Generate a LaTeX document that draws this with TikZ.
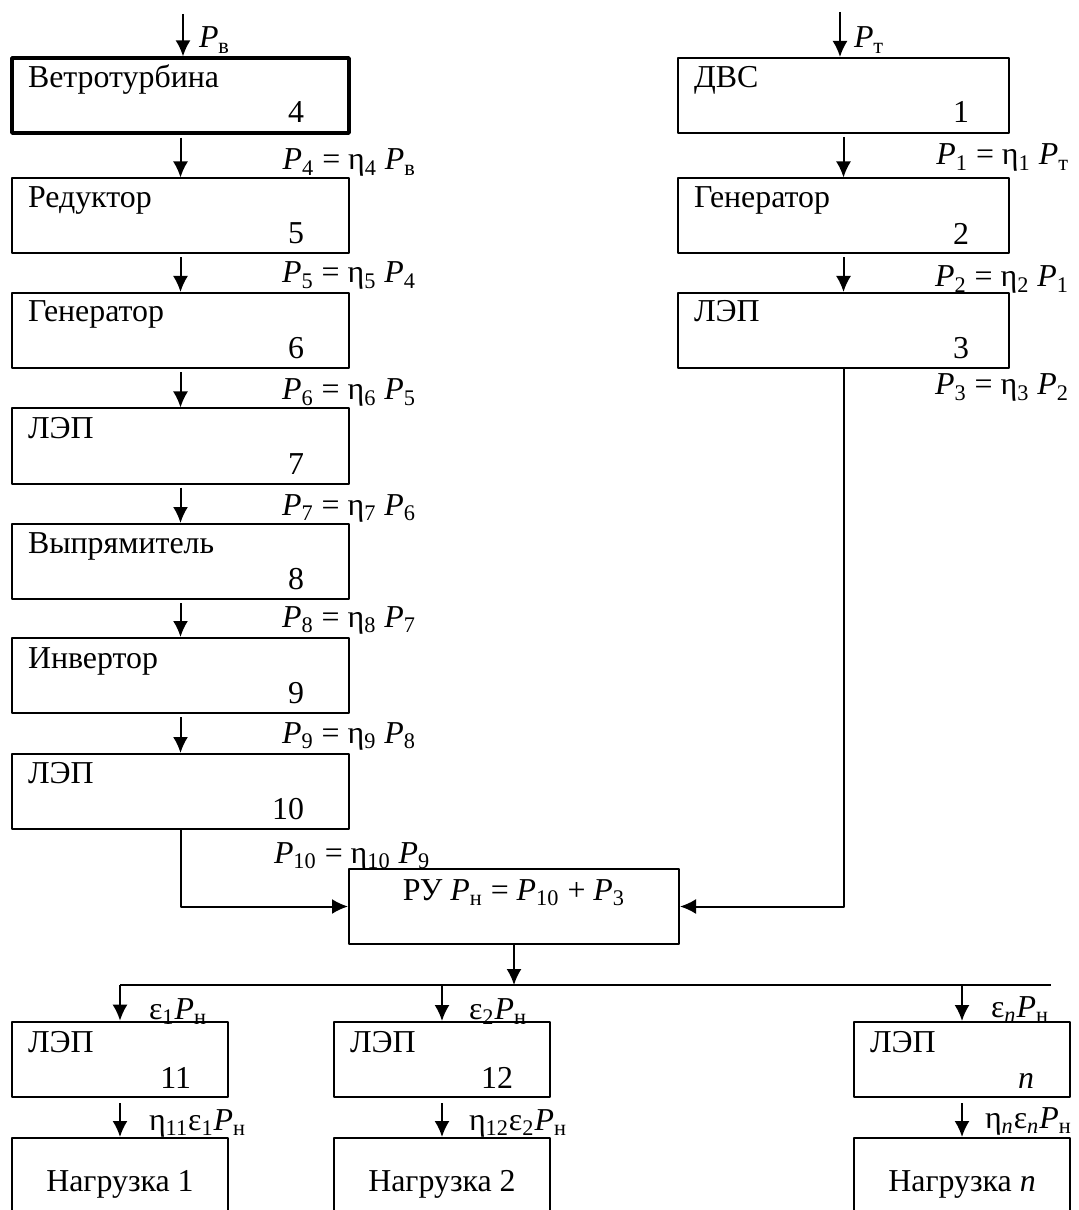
\documentclass[tikz,border=0pt]{standalone}
\usepackage{fontspec}
\setmainfont{Liberation Serif}
\usetikzlibrary{arrows.meta}

\newcommand{\powr}[1]{\textit{P}\textsubscript{#1}}
\newcommand{\eff}[1]{η\textsubscript{#1}}
\newcommand{\shr}[1]{ε\textsubscript{#1}}

\begin{document}
\begin{tikzpicture}[x=0.5bp,y=-0.5bp,>={Latex[length=8bp,width=7.5bp]},line join=bevel,
  every node/.style={font=\fontsize{16}{19}\selectfont},
  blk/.style={draw,line width=1bp,minimum width=168.5bp,minimum height=37.5bp,inner sep=0pt},
  blkr/.style={blk,minimum width=165.5bp},
  sml/.style={blk,minimum width=108bp},
  ttl/.style={anchor=base west,inner sep=0pt},
  num/.style={anchor=base east,inner sep=0pt},
  eql/.style={anchor=base east,inner sep=0pt},
  eqr/.style={anchor=base west,inner sep=0pt}]

\useasboundingbox (0,0) rectangle (1078,1210);
\clip (0,0) rectangle (1078,1210);
\pgfsetlinewidth{1bp}

% Node: wind turbine chain
\node[blk,line width=1.6bp] (b4) at (180.5,95.5) {};
\node[ttl] (b4t) at (27,88) {Ветротурбина};
\node[num] (b4n) at (305,123) {4};

\node[blk] (b5) at (180.5,216) {};
\node[ttl] (b5t) at (27,208) {Редуктор};
\node[num] (b5n) at (305,244) {5};

\node[blk] (b6) at (180.5,330.5) {};
\node[ttl] (b6t) at (27,322) {Генератор};
\node[num] (b6n) at (305,359) {6};

\node[blk] (b7) at (180.5,446) {};
\node[ttl] (b7t) at (27,438) {ЛЭП};
\node[num] (b7n) at (305,474) {7};

\node[blk] (b8) at (180.5,561.5) {};
\node[ttl] (b8t) at (27,553) {Выпрямитель};
\node[num] (b8n) at (305,589) {8};

\node[blk] (b9) at (180.5,675.5) {};
\node[ttl] (b9t) at (27,668) {Инвертор};
\node[num] (b9n) at (305,703) {9};

\node[blk] (b10) at (180.5,791.5) {};
\node[ttl] (b10t) at (27,783) {ЛЭП};
\node[num] (b10n) at (305,819) {10};

% Node: diesel chain
\node[blkr] (b1) at (843.5,95.5) {};
\node[ttl] (b1t) at (693,88) {ДВС};
\node[num] (b1n) at (970,123) {1};

\node[blkr] (b2) at (843.5,216) {};
\node[ttl] (b2t) at (693,208) {Генератор};
\node[num] (b2n) at (970,245) {2};

\node[blkr] (b3) at (843.5,330.5) {};
\node[ttl] (b3t) at (693,322) {ЛЭП};
\node[num] (b3n) at (970,359) {3};

% Node: RU
\node[blk,minimum width=165bp] (ru) at (514,906.5) {};
\node[anchor=base,inner sep=0pt] (rut) at (514,900) {РУ \powr{н} = \powr{10} + \powr{3}};

% Node: lines and loads
\node[sml,line width=1.3bp] (l11) at (120,1059.5) {};
\node[ttl] (l11t) at (27,1052) {ЛЭП};
\node[num] (l11n) at (192,1088) {11};

\node[sml] (l12) at (442,1059.5) {};
\node[ttl] (l12t) at (349,1052) {ЛЭП};
\node[num] (l12n) at (514,1088) {12};

\node[sml] (ln) at (962,1059.5) {};
\node[ttl] (lnt) at (869,1052) {ЛЭП};
\node[num] (lnn) at (1035,1088) {\textit{n}};

\node[sml,minimum height=46bp] (g1) at (120,1184) {Нагрузка 1};
\node[sml,minimum height=46bp] (g2) at (442,1184) {Нагрузка 2};
\node[sml,minimum height=46bp] (gn) at (962,1184) {Нагрузка \textit{n}};

% Edge: inputs
\coordinate (inv) at (183,14);
\coordinate (int) at (840,12);
\draw[->] (inv) -- (inv |- b4.north);
\node[eqr] (pv) at (198,48) {\powr{в}};
\draw[->] (int) -- (int |- b1.north);
\node[eqr] (pt) at (853,48) {\powr{т}};

% Edge: b4 -> b10
\draw[->] ([yshift=-1.5bp]b4.south) -- (b5.north);
\node[eql] (e4) at (417,170) {\powr{4} = \eff{4} \powr{в}};
\draw[->] ([yshift=-1.5bp]b5.south) -- (b6.north);
\node[eql] (e5) at (417,283) {\powr{5} = \eff{5} \powr{4}};
\draw[->] ([yshift=-1.5bp]b6.south) -- (b7.north);
\node[eql] (e6) at (417,400) {\powr{6} = \eff{6} \powr{5}};
\draw[->] ([yshift=-1.5bp]b7.south) -- (b8.north);
\node[eql] (e7) at (417,515) {\powr{7} = \eff{7} \powr{6}};
\draw[->] ([yshift=-1.5bp]b8.south) -- (b9.north);
\node[eql] (e8) at (417,627) {\powr{8} = \eff{8} \powr{7}};
\draw[->] ([yshift=-1.5bp]b9.south) -- (b10.north);
\node[eql] (e9) at (417,743) {\powr{9} = \eff{9} \powr{8}};

% Edge: b1 -> b3
\draw[->] ([yshift=-1.5bp]b1.south) -- (b2.north);
\node[eql] (e1) at (1070,165) {\powr{1} = \eff{1} \powr{т}};
\draw[->] ([yshift=-1.5bp]b2.south) -- (b3.north);
\node[eql] (e2) at (1070,287) {\powr{2} = \eff{2} \powr{1}};
\node[eql] (e3) at (1070,395) {\powr{3} = \eff{3} \powr{2}};

% Edge: b10 -> ru, b3 -> ru
\draw[->] (b10.south) |- (ru.west);
\node[eqr] (e10) at (273,863) {\powr{10} = \eff{10} \powr{9}};
\draw[->] (b3.south) |- (ru.east);

% Edge: ru -> bus -> lines
\coordinate (busr) at (1051,985);
\draw[->] (ru.south) -- (ru.south |- busr);
\draw (l11.north |- busr) -- (busr);
\draw[->] (l11.north |- busr) -- (l11.north);
\node[eqr] (s1) at (148,1019) {\shr{1}\powr{н}};
\draw[->] (l12.north |- busr) -- (l12.north);
\node[eqr] (s2) at (468,1019) {\shr{2}\powr{н}};
\draw[->] (ln.north |- busr) -- (ln.north);
\node[eqr] (sn) at (990,1017) {ε\textsubscript{\textit{n}}\powr{н}};

% Edge: lines -> loads
\draw[->] ([yshift=-2.5bp]l11.south) -- (g1.north);
\node[eqr] (h1) at (148,1130) {\eff{11}\shr{1}\powr{н}};
\draw[->] ([yshift=-2.5bp]l12.south) -- (g2.north);
\node[eqr] (h2) at (468,1130) {\eff{12}\shr{2}\powr{н}};
\draw[->] ([yshift=-2.5bp]ln.south) -- (gn.north);
\node[eqr] (hn) at (984,1128) {η\textsubscript{\textit{n}}ε\textsubscript{\textit{n}}\powr{н}};

\end{tikzpicture}
\end{document}
